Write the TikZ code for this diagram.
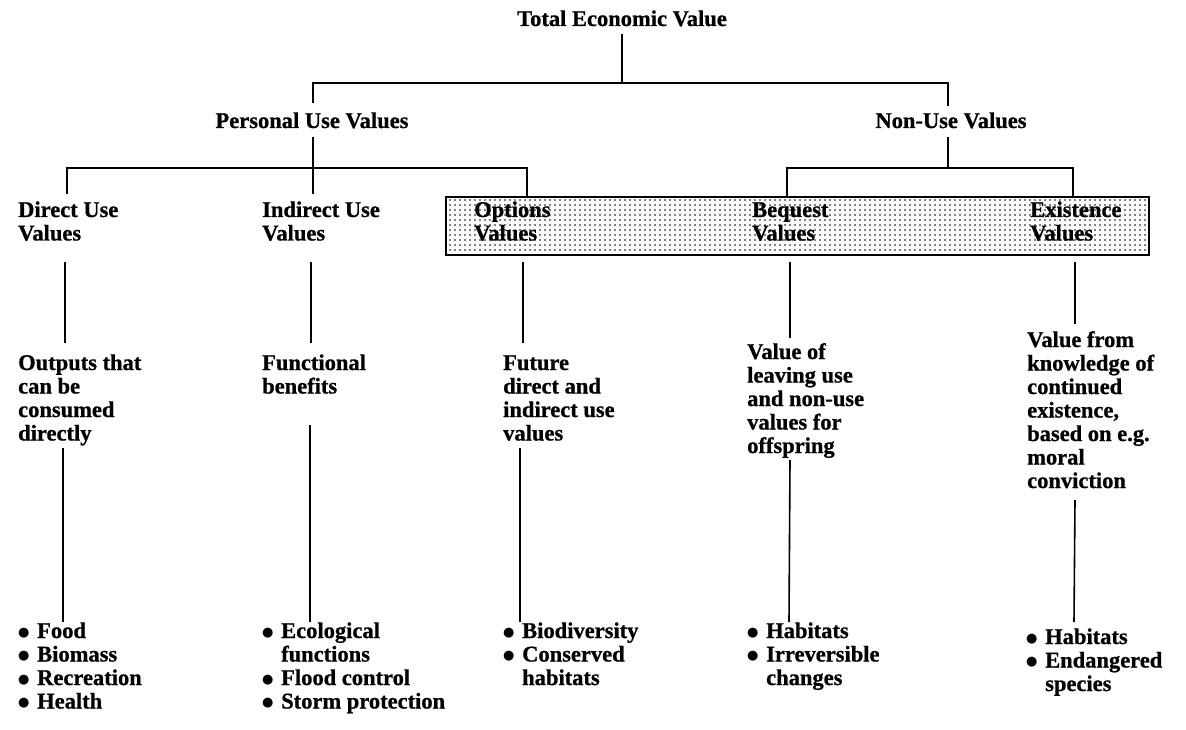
\documentclass[tikz,border=0pt]{standalone}
\usepackage{fontspec}
\setmainfont{Liberation Serif}[BoldFeatures={FakeBold=0.8}]
\newfontfamily\dvs{DejaVu Sans}
\usetikzlibrary{patterns.meta}
\newcommand\mlines[1]{\begin{tabular}[t]{@{}l@{}}#1\end{tabular}}
\newcommand\itm{\makebox[19pt][l]{\raisebox{1.8pt}{\dvs\fontsize{13}{13}\selectfont ●}}}
\newcommand\cnt{\hspace*{19pt}}
\begin{document}
\begin{tikzpicture}[x=1pt,y=-1pt,
  lbl/.style={font=\bfseries\fontsize{22.5}{23.5}\selectfont, inner sep=0pt},
  blk/.style={lbl, anchor=base west},
  ln/.style={line width=1.6pt},
  shadebox/.style={draw, line width=1.6pt, pattern={Dots[distance=5pt, radius=0.85pt]}, inner sep=0pt, anchor=north west}]
\useasboundingbox (0,0) rectangle (1186,730);

% shaded box
\node[shadebox, minimum width=703pt, minimum height=58pt] (box) at (445,196) {};

% titles
\node[lbl, anchor=base] (tev) at (622,26) {Total Economic Value};
\node[lbl, anchor=base] (puv) at (312,128) {Personal Use Values};
\node[lbl, anchor=base] (nuv) at (951,128) {Non-Use Values};

% category headers
\node[blk] (duv) at (18,217) {\mlines{Direct Use\\Values}};
\node[blk] (iuv) at (262,217) {\mlines{Indirect Use\\Values}};
\node[blk] (ov)  at (474,217) {\mlines{Options\\Values}};
\node[blk] (bv)  at (752,217) {\mlines{Bequest\\Values}};
\node[blk] (ev)  at (1030,217) {\mlines{Existence\\Values}};

% descriptions
\node[blk] (dd) at (18,370) {\mlines{Outputs that\\can be\\consumed\\directly}};
\node[blk] (id) at (262,370) {\mlines{Functional\\benefits}};
\node[blk] (od) at (503,370) {\mlines{Future\\direct and\\indirect use\\values}};
\node[blk] (bd) at (747,359) {\mlines{Value of\\leaving use\\and non-use\\values for\\offspring}};
\node[blk] (ed) at (1027,347) {\mlines{Value from\\knowledge of\\continued\\existence,\\based on e.g.\\moral\\conviction}};

% examples
\node[blk] (dl) at (18,638) {\mlines{\itm Food\\\itm Biomass\\\itm Recreation\\\itm Health}};
\node[blk] (il) at (262,638) {\mlines{\itm Ecological\\\cnt functions\\\itm Flood control\\\itm Storm protection}};
\node[blk] (ol) at (503,638) {\mlines{\itm Biodiversity\\\itm Conserved\\\cnt habitats}};
\node[blk] (bl) at (747,638) {\mlines{\itm Habitats\\\itm Irreversible\\\cnt changes}};
\node[blk] (el) at (1026,644) {\mlines{\itm Habitats\\\itm Endangered\\\cnt species}};

% tree connectors
\coordinate (a0) at (622,34);
\coordinate (a1) at (622,83);
\coordinate (pL) at (313,103);
\coordinate (nR) at (948,106);
\draw[ln] (a0) -- (a1);
\draw[ln] (pL) |- (a1) -| (nR);

\coordinate (p0) at (313,137);
\coordinate (p1) at (313,168);
\coordinate (dTop) at (67,194);
\coordinate (iTop) at (313,194);
\coordinate (oTop) at (527,196);
\draw[ln] (dTop) |- (p1) -| (oTop);
\draw[ln] (p0) -- (iTop);

\coordinate (n0) at (948,137);
\coordinate (n1) at (948,168);
\coordinate (bTop) at (787,196);
\coordinate (eTop) at (1073,196);
\draw[ln] (bTop) |- (n1) -| (eTop);
\draw[ln] (n0) -- (n1);

% header to description
\coordinate (d1) at (65,262);   \coordinate (d2) at (65,343);
\coordinate (i1) at (311,262);  \coordinate (i2) at (311,343);
\coordinate (o1) at (523,262);  \coordinate (o2) at (523,343);
\coordinate (b1) at (790,262);  \coordinate (b2) at (790,338);
\coordinate (e1) at (1075,262); \coordinate (e2) at (1075,324);
\draw[ln] (d1) -- (d2);
\draw[ln] (i1) -- (i2);
\draw[ln] (o1) -- (o2);
\draw[ln] (b1) -- (b2);
\draw[ln] (e1) -- (e2);

% description to examples
\coordinate (d3) at (63,448);   \coordinate (d4) at (63,622);
\coordinate (i3) at (310,425);  \coordinate (i4) at (310,622);
\coordinate (o3) at (520,448);  \coordinate (o4) at (520,622);
\coordinate (b3) at (790,460);  \coordinate (b4) at (789,622);
\coordinate (e3) at (1075,500); \coordinate (e4) at (1074,622);
\draw[ln] (d3) -- (d4);
\draw[ln] (i3) -- (i4);
\draw[ln] (o3) -- (o4);
\draw[ln] (b3) -- (b4);
\draw[ln] (e3) -- (e4);
\end{tikzpicture}
\end{document}
